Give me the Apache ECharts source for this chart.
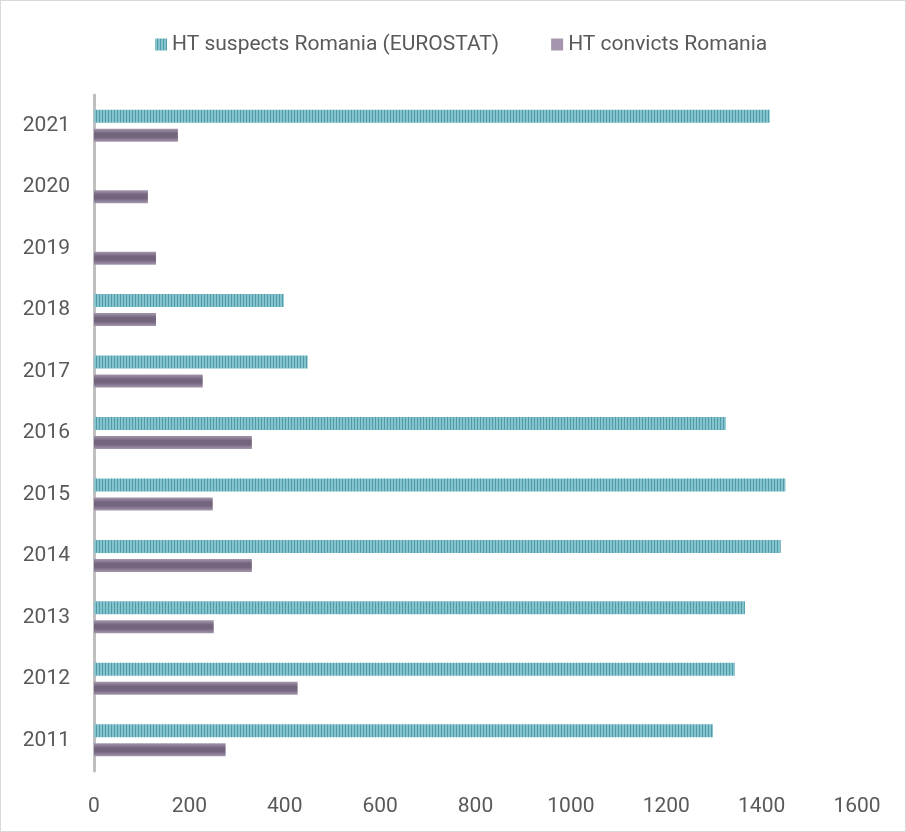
<!DOCTYPE html>
<html>
<head>
<meta charset="utf-8">
<script src="https://cdn.jsdelivr.net/npm/echarts@6/dist/echarts.min.js"></script>
<style>
html,body{margin:0;padding:0;background:#fff;}
#chart{width:906px;height:832px;box-sizing:border-box;border:1px solid #d9d9d9;}
</style>
</head>
<body>
<div id="chart"></div>
<script>
const years = ['2011','2012','2013','2014','2015','2016','2017','2018','2019','2020','2021'];
const suspects = [1298, 1344, 1365, 1440, 1450, 1325, 448, 398, null, null, 1417];
const convicts = [276, 427, 251, 331, 249, 331, 228, 130, 130, 113, 176];
const seriesNames = ['HT suspects Romania (EUROSTAT)', 'HT convicts Romania'];
const xTicks = {min: 0, max: 1600, interval: 200};

// striped pattern for suspects
const pc = document.createElement('canvas');
pc.width = 3; pc.height = 4;
const ctx = pc.getContext('2d');
ctx.fillStyle = '#86c4cd'; ctx.fillRect(0,0,3,4);
ctx.fillStyle = '#4f9dab'; ctx.fillRect(2,0,1,4);
const stripe = {image: pc, repeat: 'repeat'};

const purple = {
  type: 'linear', x: 0, y: 0, x2: 0, y2: 1,
  colorStops: [
    {offset: 0, color: '#a497ad'},
    {offset: 0.35, color: '#74657e'},
    {offset: 0.65, color: '#74657e'},
    {offset: 1, color: '#a497ad'}
  ]
};

const chart = echarts.init(document.getElementById('chart'), null, {renderer: 'canvas'});
const font = 'Roboto';
chart.setOption({
  animation: false,
  textStyle: {fontFamily: font},
  legend: {
    top: 28, left: 149,
    itemWidth: 12, itemHeight: 12, itemGap: 52,
    textStyle: {fontSize: 21, color: '#595959', fontFamily: font},
    data: [
      {name: seriesNames[0], icon: 'rect'},
      {name: seriesNames[1], icon: 'rect', itemStyle: {color: '#a596ad'}}
    ]
  },
  grid: {left: 93, right: 48, top: 94, bottom: 60, containLabel: false},
  xAxis: {
    type: 'value', min: xTicks.min, max: xTicks.max, interval: xTicks.interval,
    axisLine: {show: false}, axisTick: {show: false}, splitLine: {show: false},
    axisLabel: {fontSize: 21, color: '#595959', margin: 25, fontFamily: font,
      formatter: v => String(v)}
  },
  yAxis: {
    type: 'category', data: years,
    axisLine: {show: true, lineStyle: {color: '#bfbfbf', width: 3}},
    axisTick: {show: false},
    axisLabel: {fontSize: 21, color: '#595959', margin: 24, fontFamily: font}
  },
  series: [
    {name: seriesNames[0], type: 'bar', data: suspects, barWidth: 13, barGap: '46%',
     itemStyle: {color: stripe}},
    {name: seriesNames[1], type: 'bar', data: convicts, barWidth: 13, barGap: '46%',
     itemStyle: {color: purple}}
  ]
});
</script>
</body>
</html>
